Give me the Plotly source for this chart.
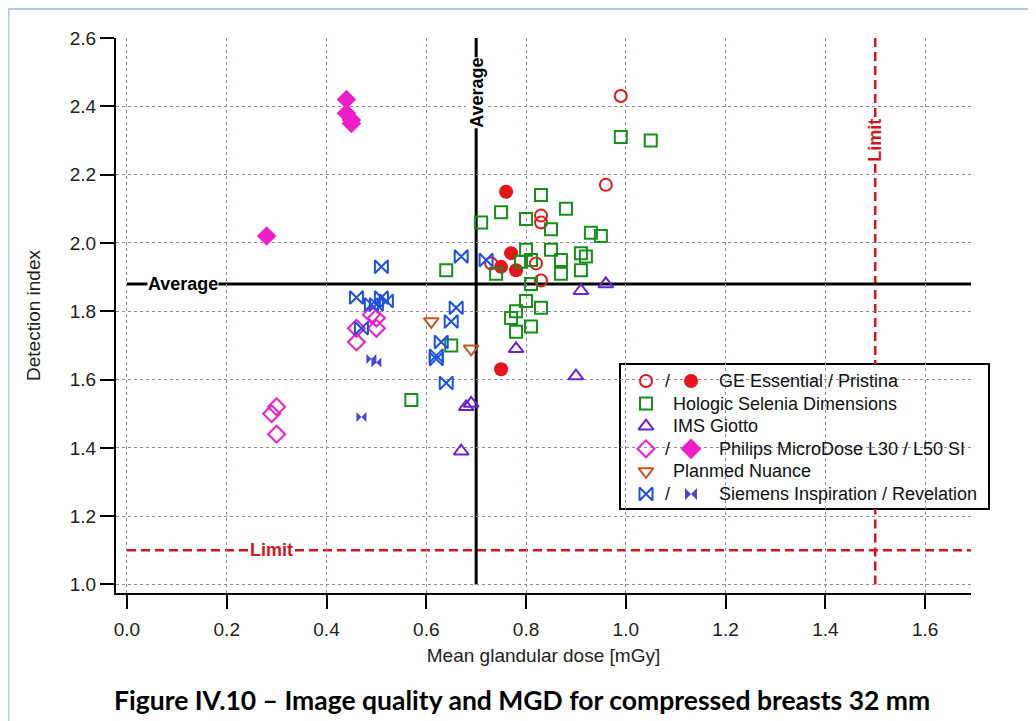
import plotly.graph_objects as go

# ---------------- data ----------------
ge_ess_x = [0.99, 0.96, 0.83, 0.83, 0.82, 0.83, 0.73]
ge_ess_y = [2.43, 2.17, 2.08, 2.06, 1.94, 1.89, 1.94]
ge_pri_x = [0.76, 0.77, 0.75, 0.78, 0.75]
ge_pri_y = [2.15, 1.97, 1.93, 1.92, 1.63]
hol_x = [0.99, 1.05, 0.83, 0.75, 0.71, 0.80, 0.88, 0.85, 0.93, 0.95, 0.64, 0.74, 0.80, 0.81, 0.79,
         0.85, 0.87, 0.91, 0.92, 0.87, 0.91, 0.81, 0.80, 0.83, 0.78, 0.77, 0.81, 0.78, 0.65, 0.57]
hol_y = [2.31, 2.30, 2.14, 2.09, 2.06, 2.07, 2.10, 2.04, 2.03, 2.02, 1.92, 1.91, 1.98, 1.95, 1.945,
         1.98, 1.95, 1.97, 1.96, 1.91, 1.92, 1.88, 1.83, 1.81, 1.80, 1.78, 1.755, 1.74, 1.70, 1.54]
ims_x = [0.91, 0.96, 0.78, 0.90, 0.69, 0.68, 0.67]
ims_y = [1.86, 1.88, 1.69, 1.61, 1.53, 1.52, 1.39]
phl30_x = [0.30, 0.29, 0.30, 0.46, 0.46, 0.50, 0.50, 0.49]
phl30_y = [1.52, 1.50, 1.44, 1.71, 1.75, 1.75, 1.78, 1.79]
phl50_x = [0.44, 0.44, 0.45, 0.45, 0.28]
phl50_y = [2.42, 2.38, 2.36, 2.35, 2.02]
plan_x = [0.61, 0.69]
plan_y = [1.77, 1.69]
sie_ins_x = [0.51, 0.67, 0.72, 0.46, 0.49, 0.51, 0.52, 0.50, 0.66, 0.65, 0.63, 0.62, 0.62, 0.64, 0.47]
sie_ins_y = [1.93, 1.96, 1.95, 1.84, 1.82, 1.84, 1.83, 1.82, 1.81, 1.77, 1.71, 1.67, 1.66, 1.59, 1.75]
sie_rev_x = [0.49, 0.50, 0.47]
sie_rev_y = [1.66, 1.65, 1.49]

avg_dose = 0.70
avg_index = 1.88
limit_dose = 1.5
limit_index = 1.1

x_ticks = [0.0, 0.2, 0.4, 0.6, 0.8, 1.0, 1.2, 1.4, 1.6]
y_ticks = [1.0, 1.2, 1.4, 1.6, 1.8, 2.0, 2.2, 2.4, 2.6]

legend_rows = [
    ("GE Essential / Pristina", "circle-open", "circle"),
    ("Hologic Selenia Dimensions", "square-open", None),
    ("IMS Giotto", "triangle-up-open", None),
    ("Philips MicroDose L30 / L50 SI", "diamond-open", "diamond"),
    ("Planmed Nuance", "triangle-down-open", None),
    ("Siemens Inspiration / Revelation", "bowtie-open", "bowtie"),
]

# ---------------- styles ----------------
RED = "#e8141c"
GREEN = "#16901a"
PURPLE = "#6c22d2"
MAGENTA = "#ee1ec8"
BROWN = "#c4581e"
BLUE = "#1e50e6"
BLUE2 = "#4848d6"
LIMRED = "#d4141e"
FONT = "Liberation Sans, Arial, sans-serif"

styles = {
    "circle-open": dict(color=RED, size=12, line=dict(color=RED, width=2)),
    "circle": dict(color=RED, size=14, line=dict(width=0)),
    "square-open": dict(color=GREEN, size=12, line=dict(color=GREEN, width=2)),
    "triangle-up-open": dict(color=PURPLE, size=13, line=dict(color=PURPLE, width=2)),
    "diamond-open": dict(color=MAGENTA, size=13, line=dict(color=MAGENTA, width=2)),
    "diamond": dict(color=MAGENTA, size=15, line=dict(width=0)),
    "triangle-down-open": dict(color=BROWN, size=13, line=dict(color=BROWN, width=2)),
    "bowtie-open": dict(color=BLUE, size=13, line=dict(color=BLUE, width=2)),
    "bowtie": dict(color=BLUE2, size=10, line=dict(width=0)),
}

fig = go.Figure()

series = [
    ("GE Essential", ge_ess_x, ge_ess_y, "circle-open"),
    ("GE Pristina", ge_pri_x, ge_pri_y, "circle"),
    ("Hologic Selenia Dimensions", hol_x, hol_y, "square-open"),
    ("IMS Giotto", ims_x, ims_y, "triangle-up-open"),
    ("Philips MicroDose L30", phl30_x, phl30_y, "diamond-open"),
    ("Philips MicroDose L50 SI", phl50_x, phl50_y, "diamond"),
    ("Planmed Nuance", plan_x, plan_y, "triangle-down-open"),
    ("Siemens Inspiration", sie_ins_x, sie_ins_y, "bowtie-open"),
    ("Siemens Revelation", sie_rev_x, sie_rev_y, "bowtie"),
]
for name, xs, ys, sym in series:
    fig.add_trace(go.Scatter(x=xs, y=ys, mode="markers", name=name,
                             marker=dict(symbol=sym, **styles[sym]), showlegend=False))

# ---------------- geometry (page px -> figure coords; page body has an 8px margin) ----------------
OFF = 8
W, H = 1036 - OFF, 721 - OFF
L, R, T, B = 116 - OFF, 65, 38 - OFF, 128
PW, PH = W - L - R, H - T - B
X_RANGE = [-0.022, 1.692]
Y_RANGE = [0.975, 2.6]


def px(xp):
    return (xp - OFF - L) / PW


def py(yp):
    return (H - B - (yp - OFF)) / PH


def ydata(yp):
    return Y_RANGE[0] + py(yp) * (Y_RANGE[1] - Y_RANGE[0])


# ---------------- custom legend (overlay axes in paper units) ----------------
box_l, box_r, box_t, box_b = 620, 989, 364, 509
row0, dy = 381, 22.6
sx1, sslash, sx2, tx_pair, tx_single = 646, 667, 691, 717, 671
for i, (label, s1, s2) in enumerate(legend_rows):
    yy = py(row0 + i * dy)
    sym_list = [s1] + ([s2] if s2 else [])
    xs = [px(sx1)] + ([px(sx2)] if s2 else [])
    for sym, xx in zip(sym_list, xs):
        st = dict(styles[sym])
        if sym == "diamond":
            st["size"] = 16
        if sym == "bowtie":
            st["size"] = 12
        fig.add_trace(go.Scatter(x=[xx], y=[yy], mode="markers", xaxis="x2", yaxis="y2",
                                 marker=dict(symbol=sym, **st), showlegend=False, hoverinfo="skip"))
    if s2:
        fig.add_annotation(x=px(sslash), y=yy, xref="x2", yref="y2", text="/", showarrow=False,
                           font=dict(family=FONT, size=18, color="#111"))
    fig.add_annotation(x=px(tx_pair if s2 else tx_single), y=yy, xref="x2", yref="y2", text=label,
                       showarrow=False, xanchor="left", font=dict(family=FONT, size=18, color="#111"))

# ---------------- reference lines ----------------
lim_style = dict(color=LIMRED, width=2.5, dash="9px,5px")
shapes = [
    # page border
    dict(type="line", xref="paper", yref="paper", x0=px(8), x1=px(1036), y0=py(9), y1=py(9),
         line=dict(color="#b7c9e8", width=2), layer="below"),
    dict(type="line", xref="paper", yref="paper", x0=px(8.5), x1=px(8.5), y0=py(9), y1=py(721),
         line=dict(color="#b7c9e8", width=2), layer="below"),
    # limits (vertical one interrupted by the legend box)
    dict(type="line", xref="x", yref="y", x0=0, x1=1.7, y0=limit_index, y1=limit_index,
         line=lim_style, layer="below"),
    dict(type="line", xref="x", yref="y", x0=limit_dose, x1=limit_dose, y0=1.0, y1=ydata(box_b),
         line=lim_style, layer="below"),
    dict(type="line", xref="x", yref="y", x0=limit_dose, x1=limit_dose, y0=2.6, y1=ydata(box_t),
         line=lim_style, layer="below"),
    # averages
    dict(type="line", xref="x", yref="y", x0=0, x1=1.7, y0=avg_index, y1=avg_index,
         line=dict(color="black", width=3), layer="below"),
    dict(type="line", xref="x", yref="y", x0=avg_dose, x1=avg_dose, y0=1.0, y1=2.6,
         line=dict(color="black", width=3), layer="below"),
    # legend box
    dict(type="rect", xref="paper", yref="paper", x0=px(box_l), x1=px(box_r), y0=py(box_b), y1=py(box_t),
         line=dict(color="black", width=2), fillcolor="white", layer="between"),
]

anns = [
    dict(x=0.112, y=avg_index, xref="x", yref="y", text="<b>Average</b>", showarrow=False,
         bgcolor="white", borderpad=0, font=dict(family=FONT, size=18, color="black")),
    dict(x=avg_dose, y=2.44, xref="x", yref="y", text="<b>Average</b>", showarrow=False,
         textangle=-90, bgcolor="white", borderpad=0, font=dict(family=FONT, size=18, color="black")),
    dict(x=0.29, y=limit_index, xref="x", yref="y", text="<b>Limit</b>", showarrow=False,
         bgcolor="white", borderpad=0, font=dict(family=FONT, size=18, color=LIMRED)),
    dict(x=limit_dose, y=2.30, xref="x", yref="y", text="<b>Limit</b>", showarrow=False,
         textangle=-90, bgcolor="white", borderpad=0, font=dict(family=FONT, size=18, color=LIMRED)),
    dict(x=px(522), y=py(700), xref="paper", yref="paper", yanchor="middle", xanchor="center",
         text="<b>Figure IV.10 – Image quality and MGD for compressed breasts 32 mm</b>",
         showarrow=False, font=dict(family="Lato, Open Sans, sans-serif", size=26.5, color="black")),
]
for a in anns:
    fig.add_annotation(**a)

grid = dict(showgrid=True, gridcolor="#8a8ab8", gridwidth=1, griddash="dot", zeroline=False)

fig.update_layout(
    width=W, height=H,
    margin=dict(l=L, r=R, t=T, b=B, autoexpand=False),
    paper_bgcolor="white", plot_bgcolor="white",
    shapes=shapes,
    showlegend=False,
    font=dict(family=FONT, color="#222"),
    xaxis=dict(range=X_RANGE, tickvals=x_ticks, tickformat=".1f", automargin=False,
               ticks="outside", ticklen=14, tickwidth=2, tickcolor="black",
               showline=True, linecolor="black", linewidth=2, ticklabelstandoff=4,
               tickfont=dict(family=FONT, size=19, color="#222"),
               title=dict(text="Mean glandular dose [mGy]", standoff=10,
                          font=dict(family=FONT, size=19, color="#222")),
               **grid),
    yaxis=dict(range=Y_RANGE, tickvals=y_ticks, tickformat=".1f", automargin=False,
               ticks="outside", ticklen=14, tickwidth=2, tickcolor="black",
               showline=True, linecolor="black", linewidth=2,
               tickfont=dict(family=FONT, size=19, color="#222"),
               title=dict(text="Detection index", standoff=24,
                          font=dict(family=FONT, size=19, color="#222")),
               **grid),
    xaxis2=dict(overlaying="x", range=[0, 1], visible=False, fixedrange=True),
    yaxis2=dict(overlaying="y", range=[0, 1], visible=False, fixedrange=True),
)

fig.write_html("out.html")
